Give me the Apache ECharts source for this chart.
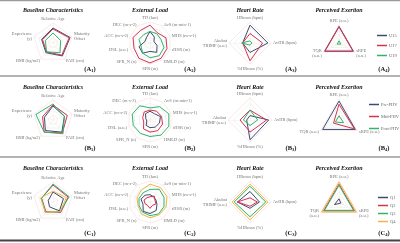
<!DOCTYPE html>
<html>
<head>
<meta charset="utf-8">
<script src="https://cdn.jsdelivr.net/npm/echarts@6/dist/echarts.min.js"></script>
<style>
  html, body { margin: 0; padding: 0; background: #fff; }
  #chart { width: 400px; height: 243px; }
</style>
</head>
<body>
<div id="chart"></div>
<script>
// indicators (ECharts places them counter-clockwise from the top)
var baselineAxes = ['Relative Age', 'Experience\n(y)', 'BMI (kg/m2)', 'PAH (cm)', 'Maturity\nOffset']
var externalAxes = ['TD (km)', 'DEC (m·s-2)', 'ACC (m·s-2)', 'DSL (a.u.)', 'SPR_N (n)', 'SPR (m)', 'HMLD (m)', 'rHSR (m)', 'MHS (m·s-1)', 'AvS (m·min-1)']
var hrAxes = ['HRmax (bpm)', 'Akubat\nTRIMP (a.u.)', '%HRmax (%)', 'AvHR (bpm)']
var rpeAxes = ['RPE (a.u.)', 'TQR\n(a.u.)', 'sRPE\n(a.u.)']
var rpeAxesB = ['RPE (a.u.)', 'TQR (a.u.)', 'sRPE (a.u.)']

var titles = ['Baseline Characteristics', 'External Load', 'Heart Rate', 'Perceived Exertion']
var groupsA = ['U15', 'U17', 'U19']
var groupsB = ['Pre-PHV', 'Mid-PHV', 'Post-PHV']
var groupsC = ['Q1', 'Q2', 'Q3', 'Q4']

// normalised values (0-1), indicator order as above
var a1 = [[0.75, 0.6, 0.6, 0.8, 0.9], [0.7, 0.55, 0.55, 0.75, 0.85], [0.5, 0.4, 0.55, 0.6, 0.4]]
var a2 = [
    [0.55, 0.3, 0.25, 0.55, 0.6, 0.4, 0.55, 0.35, 0.2, 0.35],
    [0.85, 0.75, 0.85, 0.8, 0.9, 0.95, 0.9, 0.85, 0.8, 0.6],
    [0.55, 0.5, 0.55, 0.45, 0.6, 0.7, 0.75, 0.7, 0.55, 0.55]
]
var a3 = [[0.85, 0.35, 0.45, 0.85], [0.45, 0.35, 0.85, 0.6], [0.1, 0.4, 0.1, 0.1]]
var a4 = [[0.92, 0.92, 0.92], [0.9, 0.9, 0.9], [0.12, 0.12, 0.12]]

var b1 = [[0.7, 0.45, 0.65, 0.75, 0.6], [0.75, 0.55, 0.75, 0.8, 0.75], [0.8, 0.9, 0.75, 0.85, 0.6]]
var b2 = [
    [0.4, 0.35, 0.2, 0.15, 0.3, 0.35, 0.4, 0.45, 0.5, 0.35],
    [0.45, 0.45, 0.35, 0.3, 0.5, 0.55, 0.6, 0.6, 0.55, 0.5],
    [0.55, 0.8, 0.85, 0.8, 0.75, 0.75, 0.85, 0.9, 0.9, 0.75]
]
var b3 = [[0.2, 0.15, 0.9, 0.85], [0.45, 0.45, 0.55, 0.75], [0.45, 0.3, 0.25, 0.35]]
var b4 = [[0.9, 0.9, 0.9], [0.75, 0.3, 0.85], [0.2, 0.2, 0.25]]

var c1 = [[0.5, 0.25, 0.3, 0.55, 0.55], [0.85, 0.6, 0.6, 0.65, 0.8], [0.9, 0.6, 0.65, 0.6, 0.85], [0.55, 0.65, 0.65, 0.6, 0.7]]
var c2 = [
    [0.35, 0.4, 0.45, 0.35, 0.55, 0.55, 0.5, 0.35, 0.3, 0.3],
    [0.25, 0.25, 0.3, 0.25, 0.2, 0.3, 0.2, 0.3, 0.25, 0.35],
    [0.6, 0.55, 0.55, 0.55, 0.6, 0.65, 0.7, 0.7, 0.7, 0.75],
    [0.85, 0.7, 0.65, 0.6, 0.7, 0.75, 0.75, 0.8, 0.85, 0.85]
]
var c3 = [[0.5, 0.6, 0.3, 0.45], [0.2, 0.6, 0.2, 0.35], [0.75, 0.75, 0.7, 0.75], [0.85, 0.85, 0.85, 0.85]]
var c4 = [[0.15, 0.25, 0.1], [0.85, 0.85, 0.85], [0.8, 0.8, 0.8], [0.95, 0.95, 0.95]]

var colors = ['#3d4c6e', '#d8324f', '#33b36b', '#f2b544']
var serif = "'Liberation Serif', 'DejaVu Serif', serif"

var rowCenterY = [43, 120, 202]
var rowTitleY = [10, 87, 168]
var rowTagY = [69, 148, 233]
var colX = [53, 150, 250, 339]
var radii = [[20, 21, 21, 18], [20, 22, 22, 21], [20, 21, 21, 21]]
var rowLetters = ['A', 'B', 'C']
var tagX = [90, 190, 291, 384]

var panels = [
    [[baselineAxes, a1], [externalAxes, a2], [hrAxes, a3], [rpeAxes, a4]],
    [[baselineAxes, b1], [externalAxes, b2], [hrAxes, b3], [rpeAxesB, b4]],
    [[baselineAxes, c1], [externalAxes, c2], [hrAxes, c3], [rpeAxes, c4]]
]
var rowGroups = [groupsA, groupsB, groupsC]

var radars = []
var series = []
var graphics = []

panels.forEach(function (row, r) {
    row.forEach(function (p, c) {
        var idx = radars.length
        radars.push({
            center: [colX[c], rowCenterY[r]],
            radius: radii[r][c],
            startAngle: 90,
            splitNumber: 4,
            shape: 'polygon',
            indicator: p[0].map(function (n) { return {name: n, max: 1} }),
            nameGap: 2,
            axisName: {color: '#777', fontSize: 4.5, fontFamily: serif, lineHeight: 5},
            axisLine: {lineStyle: {color: '#ececec', width: 0.5}},
            splitLine: {lineStyle: {color: ['#f6dada', '#f7e4d0', '#e3efdf', '#e0e7f1'], width: 0.6}},
            splitArea: {show: false}
        })
        series.push({
            type: 'radar',
            radarIndex: idx,
            symbol: 'none',
            silent: true,
            data: p[1].map(function (vals, k) {
                return {
                    name: rowGroups[r][k],
                    value: vals,
                    lineStyle: {color: colors[k], width: 1},
                    itemStyle: {color: colors[k]}
                }
            })
        })
        graphics.push({
            type: 'text', x: colX[c], y: rowTitleY[r],
            style: {text: titles[c], font: 'italic bold 6px ' + serif, fill: '#111',
                textAlign: 'center', textVerticalAlign: 'middle', align: 'center', verticalAlign: 'middle'}
        })
        // panel tag like (A1) with subscript digit
        graphics.push({
            type: 'text', x: tagX[c], y: rowTagY[r],
            style: {
                text: '{b|(' + rowLetters[r] + '}{s|' + (c + 1) + '}{b|)}',
                rich: {
                    b: {font: 'bold 6.5px ' + serif, fill: '#111', color: '#111'},
                    s: {font: 'bold 4.5px ' + serif, fill: '#111', color: '#111', padding: [3, 0, 0, 0]}
                },
                textAlign: 'center', textVerticalAlign: 'middle', align: 'center', verticalAlign: 'middle'
            }
        })
    })
})

// row dividers
;[0.5, 76, 157].forEach(function (y) {
    graphics.push({type: 'line', shape: {x1: 0, y1: y, x2: 400, y2: y}, style: {stroke: '#9a9a9a', lineWidth: 1.5}})
})
graphics.push({type: 'line', shape: {x1: 0, y1: 240.5, x2: 400, y2: 240.5}, style: {stroke: '#444', lineWidth: 2}})

var legendTop = [28, 97, 190]
var legendGap = [5, 7, 3]
var legends = rowGroups.map(function (g, r) {
    return {
        data: g,
        orient: 'vertical',
        left: r === 0 ? 372 : (r === 1 ? 364 : 373),
        top: legendTop[r],
        icon: 'rect',
        itemWidth: 10,
        itemHeight: 1.5,
        itemGap: legendGap[r],
        selectedMode: false,
        textStyle: {fontSize: 4.5, color: '#666', fontFamily: serif, padding: [0, 0, 0, -3]}
    }
})

var chart = echarts.init(document.getElementById('chart'))
chart.setOption({
    animation: false,
    backgroundColor: '#fff',
    radar: radars,
    legend: legends,
    series: series,
    graphic: graphics
})
</script>
</body>
</html>
